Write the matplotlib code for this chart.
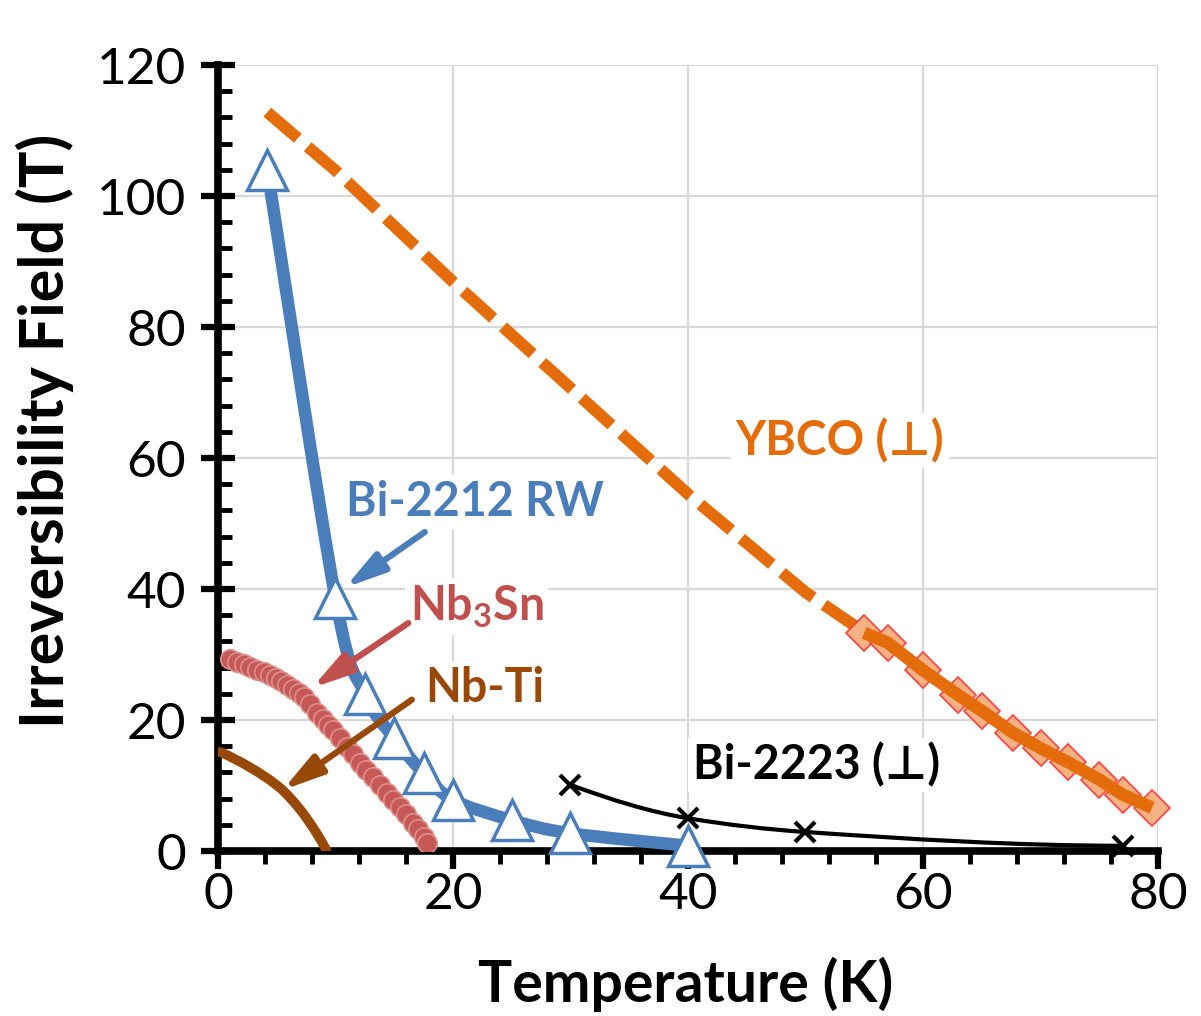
import matplotlib
matplotlib.use("Agg")
import matplotlib.pyplot as plt
from matplotlib.path import Path
from matplotlib.patches import PathPatch
from matplotlib.ticker import MultipleLocator

# ---------------- data ----------------
bi2212_T = [4.2, 10, 12.5, 15, 17.5, 20, 25, 30, 40]
bi2212_B = [104.0, 38.6, 24.0, 17.2, 11.9, 7.8, 4.7, 2.7, 0.8]

ybco_fit_T = [4.2, 10, 20, 30, 40, 50, 55]
ybco_fit_B = [112.8, 103.9, 86.9, 70.7, 54.5, 39.5, 33.4]

ybco_T = [55, 57, 60, 63, 65, 67.7, 70, 72.3, 75, 77, 79.5]
ybco_B = [33.3, 31.8, 27.6, 23.8, 21.4, 18.0, 15.7, 13.6, 10.9, 8.6, 6.6]

nb3sn_T = [1.0, 1.6, 2.2, 2.7, 3.3, 3.9, 4.4, 4.9, 5.4, 5.9, 6.4, 6.9, 7.3,
           7.8, 8.4, 8.9, 9.4, 9.8, 10.4, 11.0, 11.5, 12.1, 12.6, 13.2, 13.8,
           14.4, 14.9, 15.5, 16.0, 16.6, 17.0, 17.5, 17.8]
nb3sn_B = [29.3, 28.9, 28.5, 28.1, 27.7, 27.3, 26.9, 26.4, 25.9, 25.3, 24.7,
           24.1, 23.5, 22.4, 21.1, 20.2, 19.3, 18.5, 17.2, 15.9, 14.8, 13.4,
           12.4, 11.3, 10.1, 8.9, 7.8, 6.7, 5.6, 4.3, 3.3, 2.1, 1.2]

nbti_T = [0.2, 2.7, 5.3, 7.0, 8.4, 9.2]
nbti_B = [15.1, 12.8, 9.6, 6.3, 2.7, 0.2]

bi2223_T = [30, 40, 50, 77]
bi2223_B = [10.1, 5.0, 2.9, 0.8]

x_ticks = [0, 20, 40, 60, 80]
y_ticks = [0, 20, 40, 60, 80, 100, 120]

# ---------------- style ----------------
BLUE = "#4A7EBB"
RED = "#C0504D"
BROWN = "#984807"
ORANGE = "#E46C0A"
FONT = ["Lato", "DejaVu Sans"]


def _pchip_slopes(xs, ys):
    n = len(xs)
    h = [xs[i + 1] - xs[i] for i in range(n - 1)]
    d = [(ys[i + 1] - ys[i]) / h[i] for i in range(n - 1)]
    m = [0.0] * n
    if n == 2:
        return [d[0], d[0]]
    for i in range(1, n - 1):
        if d[i - 1] * d[i] <= 0:
            m[i] = 0.0
        else:
            w1 = 2 * h[i] + h[i - 1]
            w2 = h[i] + 2 * h[i - 1]
            m[i] = (w1 + w2) / (w1 / d[i - 1] + w2 / d[i])
    m0 = ((2 * h[0] + h[1]) * d[0] - h[0] * d[1]) / (h[0] + h[1])
    if m0 * d[0] <= 0:
        m0 = 0.0
    elif d[0] * d[1] <= 0 and abs(m0) > abs(3 * d[0]):
        m0 = 3 * d[0]
    m[0] = m0
    mn = ((2 * h[-1] + h[-2]) * d[-1] - h[-1] * d[-2]) / (h[-1] + h[-2])
    if mn * d[-1] <= 0:
        mn = 0.0
    elif d[-1] * d[-2] <= 0 and abs(mn) > abs(3 * d[-1]):
        mn = 3 * d[-1]
    m[-1] = mn
    return m


def pchip_path(xs, ys):
    """Smoothed line (monotone Hermite) through the data as Bezier segments."""
    m = _pchip_slopes(xs, ys)
    verts = [(xs[0], ys[0])]
    codes = [Path.MOVETO]
    for i in range(len(xs) - 1):
        h = xs[i + 1] - xs[i]
        verts += [(xs[i] + h / 3, ys[i] + m[i] * h / 3),
                  (xs[i + 1] - h / 3, ys[i + 1] - m[i + 1] * h / 3),
                  (xs[i + 1], ys[i + 1])]
        codes += [Path.CURVE4] * 3
    return Path(verts, codes)


def catmull_path(xs, ys):
    """Excel-like smoothed line (Catmull-Rom as cubic Bezier) through data."""
    n = len(xs)
    verts = [(xs[0], ys[0])]
    codes = [Path.MOVETO]
    for i in range(n - 1):
        p0 = i - 1 if i > 0 else i
        p3 = i + 2 if i + 2 < n else i + 1
        c1 = (xs[i] + (xs[i + 1] - xs[p0]) / 6.0, ys[i] + (ys[i + 1] - ys[p0]) / 6.0)
        c2 = (xs[i + 1] - (xs[p3] - xs[i]) / 6.0, ys[i + 1] - (ys[p3] - ys[i]) / 6.0)
        verts += [c1, c2, (xs[i + 1], ys[i + 1])]
        codes += [Path.CURVE4] * 3
    return Path(verts, codes)


fig = plt.figure(figsize=(12.01, 10.16), dpi=100)
ax = fig.add_axes([0.1815, 0.1624, 0.7827, 0.7736])
ax.set_xlim(0, 80)
ax.set_ylim(0, 120)

# grid
ax.set_axisbelow(True)
ax.grid(True, which="major", color="#D9D9D9", lw=1.6)

# spines
for s in ["top", "right"]:
    ax.spines[s].set_visible(False)
for s in ["left", "bottom"]:
    ax.spines[s].set_linewidth(5.5)
    ax.spines[s].set_color("black")
    ax.spines[s].set_zorder(3)

ax.xaxis.set_major_locator(MultipleLocator(20))
ax.xaxis.set_minor_locator(MultipleLocator(4))
ax.yaxis.set_major_locator(MultipleLocator(20))
ax.yaxis.set_minor_locator(MultipleLocator(4))
ax.set_xticks(x_ticks)
ax.set_xticklabels([str(v) for v in x_ticks])
ax.set_yticks(y_ticks)
ax.set_yticklabels([str(v) for v in y_ticks])

ax.tick_params(axis="x", which="major", direction="out", length=13, width=4.5,
               pad=2, labelsize=37)
ax.tick_params(axis="x", which="minor", direction="out", length=9, width=3.5)
ax.tick_params(axis="y", which="major", direction="inout", length=24, width=4.5,
               pad=11, labelsize=37)
ax.tick_params(axis="y", which="minor", direction="in", length=10, width=3.5)
for lab in ax.get_xticklabels() + ax.get_yticklabels():
    lab.set_family(FONT)

ax.set_xlabel("Temperature (K)", fontsize=41, fontweight="bold", family=FONT)
ax.set_ylabel("Irreversibility Field (T)", fontsize=44, fontweight="bold", family=FONT)
ax.xaxis.set_label_coords(0.497, -0.170)
ax.xaxis.label.set_va("center")
ax.yaxis.set_label_coords(-0.184, 0.535)
ax.yaxis.label.set_va("center")

# ---------------- series ----------------
# YBCO extrapolation (dashed)
ax.plot(ybco_fit_T, ybco_fit_B, color=ORANGE, lw=8.5, ls=(0, (3.4, 1.1)),
        dash_capstyle="butt", solid_capstyle="butt", zorder=4)
# YBCO data (diamonds under solid orange line)
ax.plot(ybco_T, ybco_B, ls="none", marker="D", ms=18, mfc="#F4B183",
        mec="#FF4040", mew=1.2, zorder=4, clip_on=False)
ax.plot(ybco_T, ybco_B, color=ORANGE, lw=9, zorder=5, clip_on=False,
        solid_capstyle="butt")

# Nb-Ti
ax.add_patch(PathPatch(pchip_path(nbti_T, nbti_B), fill=False,
                       edgecolor=BROWN, lw=7, zorder=4, capstyle="round"))

# Nb3Sn
ax.add_patch(PathPatch(pchip_path(nb3sn_T, nb3sn_B), fill=False,
                       edgecolor=RED, lw=11, zorder=4, capstyle="round"))
ax.plot(nb3sn_T, nb3sn_B, ls="none", marker="o", ms=14, mfc="#C65955",
        mec="#DC8F8C", mew=1.2, zorder=4)

# Bi-2212 RW
ax.add_patch(PathPatch(catmull_path(bi2212_T, bi2212_B), fill=False,
                       edgecolor=BLUE, lw=9, zorder=5, capstyle="butt"))
ax.plot(bi2212_T, bi2212_B, ls="none", marker="^", ms=29, mfc="white",
        mec=BLUE, mew=2.5, zorder=6, clip_on=False)

# Bi-2223
ax.add_patch(PathPatch(pchip_path(bi2223_T, bi2223_B), fill=False,
                       edgecolor="black", lw=3, zorder=5))
ax.plot(bi2223_T, bi2223_B, ls="none", marker="x", ms=15, mec="black",
        mew=3, zorder=6, clip_on=False)

# ---------------- labels & arrows ----------------
box = dict(boxstyle="square,pad=0.1", fc="white", ec="none")
lab_kw = dict(fontsize=33.5, fontweight="bold", family=FONT, ha="center",
              va="center", zorder=7, bbox=box)
ax.text(21.9, 53.3, "Bi-2212 RW", color=BLUE, **lab_kw)
ax.text(22.0, 37.3, "Nb$_\\mathregular{3}$Sn", color=RED, **lab_kw)
ax.text(22.7, 24.9, "Nb-Ti", color=BROWN, **lab_kw)
ax.text(52.9, 62.7, "YBCO (\u22a5)", color=ORANGE, **lab_kw)
ax.text(50.9, 13.1, "Bi-2223 (\u22a5)", color="black", **lab_kw)


def arrow(tail, tip, color):
    ax.annotate("", xy=tip, xytext=tail, zorder=8,
                arrowprops=dict(arrowstyle="-|>,head_length=1.1,head_width=0.3",
                                mutation_scale=22, color=color, lw=4.5,
                                shrinkA=0, shrinkB=0))


arrow((17.6, 48.7), (10.8, 40.2), BLUE)
arrow((16.2, 34.8), (8.0, 24.9), RED)
arrow((16.5, 23.1), (5.5, 9.3), BROWN)

fig.savefig("out.png", dpi=100)
